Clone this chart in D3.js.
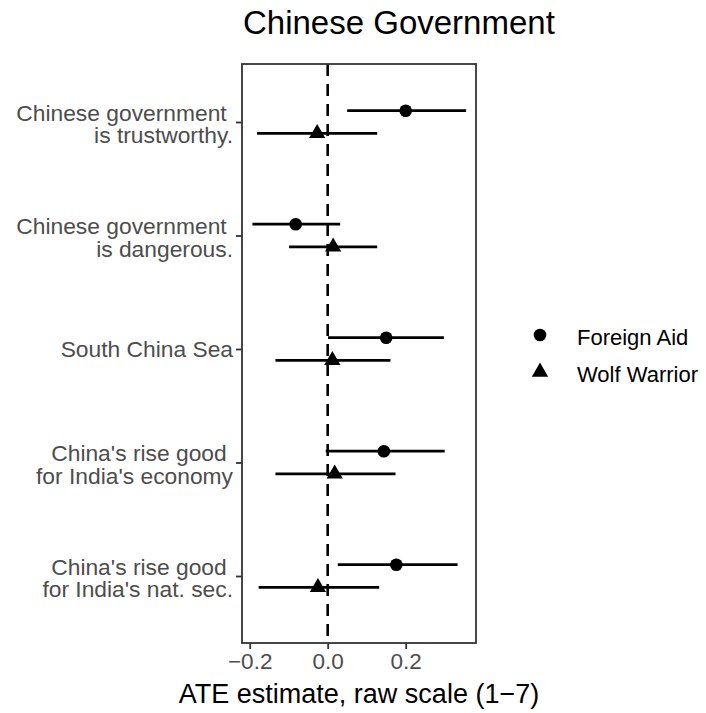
<!DOCTYPE html>
<html>
<head>
<meta charset="utf-8">
<script src="https://cdn.jsdelivr.net/npm/d3@7"></script>
<style>
  body { margin: 0; background: #fff; }
  text { font-family: "Liberation Sans", Arial, Helvetica, sans-serif; }
</style>
</head>
<body>
<svg id="chart" width="706" height="713"></svg>
<script>
// Outcome items, top to bottom; first lines keep their trailing space
const outcomes = [
  ["Chinese government ", "is trustworthy."],
  ["Chinese government ", "is dangerous."],
  ["South China Sea"],
  ["China's rise good ", "for India's economy"],
  ["China's rise good ", "for India's nat. sec."]
];
const outcomeKeys = ["trust", "danger", "scs", "econ", "natsec"];

const treatments = ["Foreign Aid", "Wolf Warrior"];

// Average treatment effects with 95% intervals
const aidEstimate   = [0.200, -0.082, 0.150, 0.144, 0.176];
const aidLower      = [0.050, -0.193, 0.001, -0.005, 0.026];
const aidUpper      = [0.355, 0.032, 0.298, 0.300, 0.333];

const wolfEstimate  = [-0.027, 0.014, 0.012, 0.018, -0.025];
const wolfLower     = [-0.181, -0.099, -0.134, -0.134, -0.177];
const wolfUpper     = [0.127, 0.127, 0.161, 0.174, 0.132];

const xTicks = [-0.2, 0.0, 0.2];

const rows = [];
outcomeKeys.forEach((k, i) => {
  rows.push({ key: k, group: "Foreign Aid", est: aidEstimate[i], lo: aidLower[i], hi: aidUpper[i] });
  rows.push({ key: k, group: "Wolf Warrior", est: wolfEstimate[i], lo: wolfLower[i], hi: wolfUpper[i] });
});

const svg = d3.select("#chart");
const panel = { left: 242, right: 476, top: 64, bottom: 643 };

const x = d3.scaleLinear().domain([-0.2197, 0.3803]).range([panel.left, panel.right]);
const y = d3.scalePoint().domain(outcomeKeys).range([122, 576]);
const dodge = d3.scalePoint().domain(treatments).range([-11.3, 11.3]);

const shape = d3.scaleOrdinal().domain(treatments).range([d3.symbolCircle, d3.symbolTriangle]);
const size = d3.scaleOrdinal().domain(treatments).range([125, 115]);

// reference line at zero
svg.append("line")
  .attr("x1", x(0)).attr("x2", x(0))
  .attr("y1", panel.top).attr("y2", panel.bottom)
  .attr("stroke", "#000").attr("stroke-width", 2.6)
  .attr("stroke-dasharray", "12,8");

// confidence intervals
svg.append("g").selectAll("line").data(rows).join("line")
  .attr("x1", d => x(d.lo)).attr("x2", d => x(d.hi))
  .attr("y1", d => y(d.key) + dodge(d.group))
  .attr("y2", d => y(d.key) + dodge(d.group))
  .attr("stroke", "#000").attr("stroke-width", 2.8);

// point estimates
svg.append("g").selectAll("path").data(rows).join("path")
  .attr("transform", d => `translate(${x(d.est)},${y(d.key) + dodge(d.group)})`)
  .attr("d", d => d3.symbol().type(shape(d.group)).size(size(d.group))())
  .attr("fill", "#000");

// panel border
svg.append("rect")
  .attr("x", panel.left).attr("y", panel.top)
  .attr("width", panel.right - panel.left).attr("height", panel.bottom - panel.top)
  .attr("fill", "none").attr("stroke", "#333").attr("stroke-width", 1.8);

// x axis
const xAxis = svg.append("g")
  .attr("transform", `translate(0,${panel.bottom})`)
  .call(d3.axisBottom(x).tickValues(xTicks).tickSize(6).tickPadding(4)
    .tickFormat(d => d3.format(".1f")(d).replace("-", "\u2212")));
xAxis.select(".domain").remove();
xAxis.selectAll(".tick line").attr("stroke", "#333").attr("stroke-width", 1.8);
xAxis.selectAll(".tick text").attr("fill", "#4d4d4d").attr("font-size", 22.5)
  .attr("font-family", "Liberation Sans, Arial, sans-serif");

// y axis with wrapped labels
const yAxis = svg.append("g")
  .attr("transform", `translate(${panel.left},0)`)
  .call(d3.axisLeft(y).tickSize(6).tickFormat(""));
yAxis.select(".domain").remove();
yAxis.selectAll(".tick line").attr("stroke", "#333").attr("stroke-width", 1.8);

const labelGroup = svg.append("g");
outcomeKeys.forEach((k, i) => {
  const lines = outcomes[i];
  const t = labelGroup.append("text")
    .attr("x", 233)
    .attr("text-anchor", "end")
    .attr("font-size", 22.8)
    .attr("fill", "#4d4d4d")
    .style("white-space", "pre");
  const first = lines.length === 1 ? y(k) + 7.5 : y(k) - 1.5;
  lines.forEach((ln, j) => {
    t.append("tspan").attr("x", 233).attr("y", first + j * 22.7).text(ln);
  });
});

// title
svg.append("text")
  .attr("x", panel.left + 1).attr("y", 34)
  .attr("font-size", 33).attr("fill", "#000")
  .text("Chinese Government");

// x axis title
svg.append("text")
  .attr("x", (panel.left + panel.right) / 2).attr("y", 703)
  .attr("text-anchor", "middle")
  .attr("font-size", 27).attr("fill", "#000")
  .text("ATE estimate, raw scale (1\u22127)");

// legend
const legend = svg.append("g");
treatments.forEach((g, i) => {
  const cy = 335 + i * 37;
  legend.append("path")
    .attr("transform", `translate(540,${cy})`)
    .attr("d", d3.symbol().type(shape(g)).size(size(g))())
    .attr("fill", "#000");
  legend.append("text")
    .attr("x", 577).attr("y", cy + 9.5)
    .attr("font-size", 22).attr("fill", "#000")
    .text(g);
});
</script>
</body>
</html>
